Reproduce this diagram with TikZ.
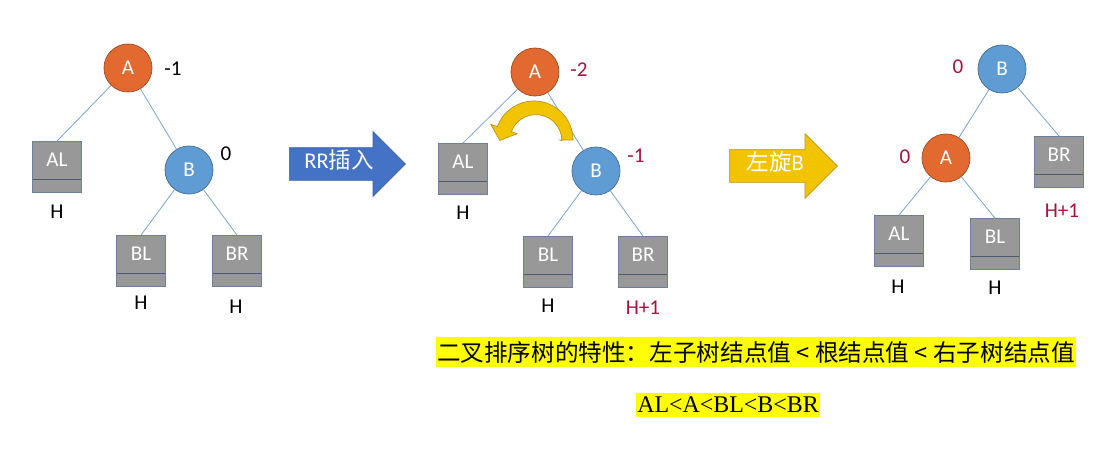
\documentclass[tikz,border=0pt]{standalone}
\usepackage{fontspec}
\setmainfont{Carlito}
\newfontfamily\cjk{Noto Sans CJK SC}
\newfontfamily\timesx{Liberation Serif}
\usetikzlibrary{shapes.arrows}

\definecolor{nodeorange}{RGB}{226,106,48}
\definecolor{nodeblue}{RGB}{96,156,212}
\definecolor{boxgray}{RGB}{152,152,152}
\definecolor{boxedge}{RGB}{108,128,158}
\definecolor{edgeblue}{RGB}{125,168,210}
\definecolor{balred}{RGB}{165,20,60}
\definecolor{arrowblue}{RGB}{68,114,196}
\definecolor{arrowgold}{RGB}{242,196,0}
\definecolor{goldedge}{RGB}{185,150,20}
\definecolor{marker}{RGB}{255,255,0}

\begin{document}
\begin{tikzpicture}[
  x=0.025cm,
  y=0.025cm,
  every node/.style={font=\fontsize{15}{17}\selectfont},
  treenode/.style={circle, minimum size=1.2cm, inner sep=0pt, text=white, line width=0.5pt},
  anode/.style={treenode, fill=nodeorange, draw=nodeorange!70!black},
  bnode/.style={treenode, fill=nodeblue, draw=nodeblue!70!black},
  subtree/.style={rectangle, minimum width=1.225cm, minimum height=1.275cm, inner sep=0pt,
    text height=0.33cm, text depth=0.38cm, fill=boxgray, draw=boxedge, line width=0.6pt, text=white,
    path picture={\draw[boxedge!70!black, line width=0.6pt]
      ([yshift=0.325cm]path picture bounding box.south west) --
      ([yshift=0.325cm]path picture bounding box.south east);}},
  edge/.style={draw=edgeblue, line width=0.6pt},
  redbal/.style={text=balred},
  bigarrow/.style={single arrow, anchor=tail, single arrow head extend=0.4cm, single arrow tip angle=90,
    inner ysep=0.1cm, text height=0.42cm, text depth=0.18cm, text=white,
    font=\fontsize{16}{18}\selectfont, line width=0.5pt},
  hilite/.style={fill=marker, inner xsep=1pt, inner ysep=3pt}
]
  \useasboundingbox (0,0) rectangle (1120,-462);

  % Before insertion.
  \node[anode] (A1) at (128,-68) {A};
  \node[bnode] (B1) at (189,-170) {B};
  \node[subtree] (AL1) at (57,-167) {AL};
  \node[subtree] (BL1) at (141,-261) {BL};
  \node[subtree] (BR1) at (237,-261) {BR};
  \draw[edge] (A1) -- (AL1.north);
  \draw[edge] (A1) -- (B1);
  \draw[edge] (B1) -- (BL1.north);
  \draw[edge] (B1) -- (BR1.north);
  \node (bA1) at (173,-69) {-1};
  \node (bB1) at (226,-154) {0};
  \node (hAL1) at (57,-212) {H};
  \node (hBL1) at (141,-303) {H};
  \node (hBR1) at (236,-307) {H};

  \node[bigarrow, minimum height=2.9cm, fill=arrowblue, draw=arrowblue!85!black] (rr) at (289,-164) {RR{\cjk 插入}};

  % After RR insertion.
  \node[anode] (A2) at (535,-72) {A};
  \node[bnode] (B2) at (596,-171) {B};
  \node[subtree] (AL2) at (463,-169) {AL};
  \node[subtree] (BL2) at (548,-262) {BL};
  \node[subtree] (BR2) at (643,-262) {BR};
  \draw[edge] (A2) -- (AL2.north);
  \draw[edge] (A2) -- (B2);
  \draw[edge] (B2) -- (BL2.north);
  \draw[edge] (B2) -- (BR2.north);
  \node[redbal] (bA2) at (579,-70) {-2};
  \node[redbal] (bB2) at (636,-156) {-1};
  \node (hAL2) at (463,-213) {H};
  \node (hBL2) at (548,-306) {H};
  \node[redbal] (hBR2) at (643,-308) {H+1};

  % Rotation mark.
  \filldraw[fill=arrowgold, draw=goldedge, line width=0.5pt]
    (560,-140) -- (573,-140) arc[start angle=0, end angle=160, radius=39]
    -- (490.8,-124.3) -- (499.8,-140.4) -- (517.1,-133.8) -- (511.4,-131.7)
    arc[start angle=160, end angle=0, radius=26] -- cycle;

  \node[bigarrow, minimum height=2.7cm, fill=arrowgold, draw=goldedge] (rot) at (729,-166) {{\cjk 左旋}B};

  % After left rotation.
  \node[bnode] (B3) at (1002,-69) {B};
  \node[anode] (A3) at (946,-158) {A};
  \node[subtree] (BR3) at (1059,-162) {BR};
  \node[subtree] (AL3) at (899,-241) {AL};
  \node[subtree] (BL3) at (995,-244) {BL};
  \draw[edge] (B3) -- (A3);
  \draw[edge] (B3) -- (BR3.north);
  \draw[edge] (A3) -- (AL3.north);
  \draw[edge] (A3) -- (BL3.north);
  \node[redbal] (bB3) at (958,-67) {0};
  \node[redbal] (bA3) at (905,-157) {0};
  \node (hAL3) at (898,-287) {H};
  \node (hBL3) at (995,-288) {H};
  \node[redbal] (hBR3) at (1062,-211) {H+1};

  % Ordering property.
  \node[hilite, font=\cjk\fontsize{16.8}{19}\selectfont] (prop) at (756,-352)
    {二叉排序树的特性：左子树结点值 < 根结点值 < 右子树结点值};
  \node[hilite, font=\timesx\fontsize{17}{20}\selectfont] (order) at (728,-405) {AL<A<BL<B<BR};
\end{tikzpicture}
\end{document}
